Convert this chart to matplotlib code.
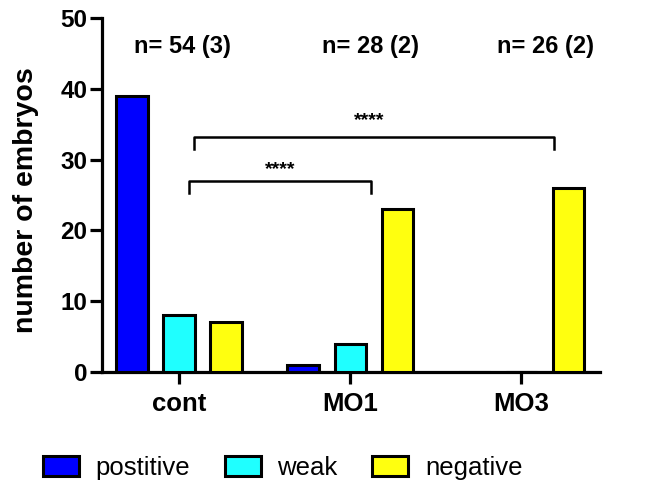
import matplotlib
matplotlib.use("Agg")
import matplotlib.pyplot as plt
import numpy as np

plt.rcParams['font.family'] = ['Liberation Sans', 'DejaVu Sans']

# data
groups = ['cont', 'MO1', 'MO3']
series = ['postitive', 'weak', 'negative']
positive = [39, 1, 0]
weak = [8, 4, 0]
negative = [7, 23, 26]
n_labels = ['n= 54 (3)', 'n= 28 (2)', 'n= 26 (2)']

colours = ['#0000ff', '#1fffff', '#ffff0f']

###############################################################################

fig = plt.figure(figsize=(6.51, 4.92), dpi=100)
ax = fig.add_axes([0.157, 0.244, 0.765, 0.719])

x = np.arange(len(groups))
offset = 0.275
width = 0.185

for k, (vals, col, name) in enumerate(zip([positive, weak, negative], colours, series)):
    ax.bar(x + (k - 1) * offset, vals, width, color=col, edgecolor='black',
           linewidth=2.2, label=name, zorder=3)

ax.set_xlim(-0.45, 2.46)
ax.set_ylim(0, 50)
ax.set_yticks([0, 10, 20, 30, 40, 50])
ax.set_xticks(x)
ax.set_xticklabels(groups, fontsize=18.5, fontweight='bold')
for lab in ax.get_yticklabels():
    lab.set_fontsize(17.5)
    lab.set_fontweight('bold')
ax.set_ylabel('number of embryos', fontsize=20.5, fontweight='bold')
ax.yaxis.set_label_coords(-0.127, 0.485)

for s in ['top', 'right']:
    ax.spines[s].set_visible(False)
for s in ['left', 'bottom']:
    ax.spines[s].set_linewidth(2.3)
ax.tick_params(axis='both', length=8.5, width=2.3, pad=2)
ax.tick_params(axis='x', pad=6)

# n= labels
n_pos = [0.02, 1.12, 2.14]
for xp, t in zip(n_pos, n_labels):
    ax.text(xp, 46, t, ha='center', va='center', fontsize=17, fontweight='bold')

# significance brackets
def bracket(ax, x0, x1, y, drop, label, lx, ly):
    ax.plot([x0, x0, x1, x1], [y - drop, y, y, y - drop], color='black',
            linewidth=1.8, clip_on=False, solid_joinstyle='round')
    ax.text(lx, ly, label, ha='center', va='center', fontsize=14,
            fontweight='bold')

bracket(ax, 0.06, 1.12, 27.0, 1.7, '****', 0.59, 28.6)
bracket(ax, 0.088, 2.19, 33.2, 1.7, '****', 1.11, 35.6)

leg = fig.legend(loc='center', bbox_to_anchor=(0.434, 0.049), ncol=3,
                 frameon=False, fontsize=18.5, handlelength=1.4,
                 handleheight=0.85, handletextpad=0.65, columnspacing=1.35)
for p in leg.get_patches():
    p.set_linewidth(2.2)

fig.savefig('out.png', dpi=100)
